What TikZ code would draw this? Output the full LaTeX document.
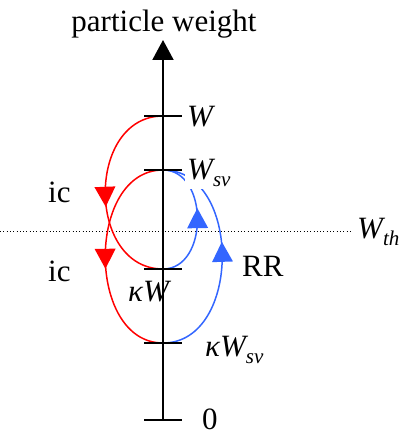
\documentclass[tikz,border=0pt]{standalone}
\usepackage{fontspec}
\setmainfont{Liberation Serif}
\usetikzlibrary{arrows.meta,decorations.markings}
\definecolor{icred}{RGB}{255,0,0}
\definecolor{rrblue}{RGB}{51,102,255}
\newcommand{\lowsub}[1]{\raisebox{-7pt}{\fontsize{21}{24}\selectfont\itshape #1}}
\tikzset{
  lbl/.style={inner sep=0pt, font=\fontsize{31}{36}\selectfont},
  tickmark/.style={line width=2pt},
  axisline/.style={line width=2pt,-{Triangle[length=20pt,width=21pt]}},
  midhead/.style={decoration={markings, mark=at position #1 with {\fill (10pt,0pt) -- (-10pt,10.5pt) -- (-10pt,-10.5pt) -- cycle;}}, postaction={decorate}},
  icarc/.style={icred, line width=1.5pt, midhead=#1},
  rrarc/.style={rrblue, line width=1.5pt, midhead=#1},
  thline/.style={line width=1pt, dash pattern=on 1pt off 2.3pt}
}
\begin{document}
\begin{tikzpicture}[x=1pt,y=1pt]
\useasboundingbox (0,0) rectangle (400,434);
% tick points
\coordinate (zero) at (163,14);
\coordinate (top) at (163,394);
\coordinate (tW) at (163,318);
\coordinate (tWsv) at (163,264);
\coordinate (tkW) at (163,165);
\coordinate (tkWsv) at (163,91);
\coordinate (thL) at (0,202);
\coordinate (thR) at (350,202);
% threshold
\draw[thline] (thL) -- (thR);
% red ic arcs
\draw[icarc=0.52] (tW) .. controls +(-77,0) and +(-77,0) .. (tkW);
\draw[icarc=0.51] (tWsv) .. controls +(-77,0) and +(-77,0) .. (tkWsv);
% blue RR arcs
\draw[rrarc=0.51] (tkW) .. controls +(46,0) and +(46,0) .. (tWsv);
\draw[rrarc=0.52] (tkWsv) .. controls +(79,0) and +(79,0) .. (tWsv);
% axis
\draw[axisline] (zero) -- (top);
\foreach \p in {zero,tW,tWsv,tkW,tkWsv}
  \draw[tickmark] ([xshift=-19pt]\p) -- ([xshift=19pt]\p);
% labels
\node[lbl, anchor=base] (title) at (164,402) {particle weight};
\node[lbl, anchor=base west] (lW) at (187,307) {\itshape W};
\node[lbl, anchor=base west, fill=white, inner sep=2pt] (lWsv) at (185,254) {\itshape W\lowsub{sv}};
\node[lbl, anchor=base west] (lWth) at (357,195) {\itshape W\lowsub{th}};
\node[lbl, anchor=base west] (lkW) at (128,132) {\itshape κW};
\node[lbl, anchor=base west] (lkWsv) at (205,77) {\itshape κW\lowsub{sv}};
\node[lbl, anchor=base west] (l0) at (202,5) {0};
\node[lbl, anchor=base west] (lRR) at (242,157) {RR};
\node[lbl, anchor=base west] (lic1) at (48,231) {ic};
\node[lbl, anchor=base west] (lic2) at (48,152) {ic};
\end{tikzpicture}
\end{document}
